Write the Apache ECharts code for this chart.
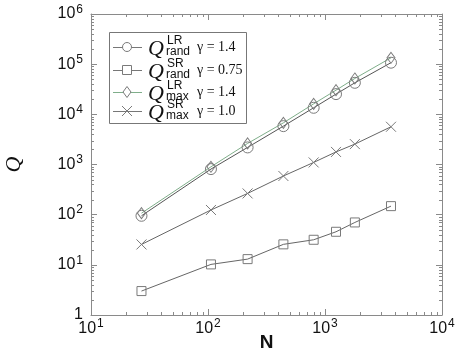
<!DOCTYPE html>
<html>
<head>
<meta charset="utf-8">
<script src="https://cdn.jsdelivr.net/npm/echarts@6/dist/echarts.min.js"></script>
<style>
  html, body { margin: 0; padding: 0; background: #fff; }
  #chart { width: 457px; height: 354px; }
</style>
</head>
<body>
<div id="chart"></div>
<script>
// system sizes N
const nValues = [27, 106, 218, 441, 800, 1242, 1800, 3665];
// Q values
const qRandLR = [95, 810, 2190, 5820, 13500, 25300, 42500, 107000];
const qRandSR = [3, 10.2, 13, 25.6, 31.6, 45.6, 70, 148];
const qMaxLR = [107, 900, 2630, 6770, 16200, 30300, 51900, 134000];
const qMaxSR = [25.5, 124, 265, 590, 1100, 1780, 2550, 5650];

const xMinorTicks = [20, 30, 40, 50, 60, 70, 80, 90,
  200, 300, 400, 500, 600, 700, 800, 900,
  2000, 3000, 4000, 5000, 6000, 7000, 8000, 9000];
const yMinorTicks = [2, 3, 4, 5, 6, 7, 8, 9,
  20, 30, 40, 50, 60, 70, 80, 90,
  200, 300, 400, 500, 600, 700, 800, 900,
  2000, 3000, 4000, 5000, 6000, 7000, 8000, 9000,
  20000, 30000, 40000, 50000, 60000, 70000, 80000, 90000,
  200000, 300000, 400000, 500000, 600000, 700000, 800000, 900000];

const legendRows = [
  { sup: 'LR', sub: 'rand', gamma: '\u03b3 = 1.4' },
  { sup: 'SR', sub: 'rand', gamma: '\u03b3 = 0.75' },
  { sup: 'LR', sub: 'max', gamma: '\u03b3 = 1.4' },
  { sup: 'SR', sub: 'max', gamma: '\u03b3 = 1.0' }
];

const axisGray = '#8a8a8a';
const markGray = '#7a7a7a';
const crossPath = 'path://M0,0L10,10M10,0L0,10';

function pow10Label(v) {
  const e = Math.round(Math.log10(v));
  if (e === 0) return '{b|1}';
  return '{b|10}{s|' + e + '}';
}

const labelRich = {
  b: { fontSize: 16, fontFamily: 'Liberation Sans', color: '#111' },
  s: { fontSize: 12, fontFamily: 'Liberation Sans', color: '#111', padding: [0, 0, 9, 1] }
};

function logAxis(extra) {
  return Object.assign({
    type: 'log',
    logBase: 10,
    axisLine: { show: true, lineStyle: { color: axisGray, width: 1 } },
    axisTick: { show: true, inside: true, length: 6, lineStyle: { color: axisGray } },
    splitLine: { show: false },
    minorTick: { show: false }
  }, extra);
}

function lineSeries(name, data, symbol, size, lineColor) {
  return {
    name: name,
    type: 'line',
    data: nValues.map((n, i) => [n, data[i]]),
    symbol: symbol,
    symbolSize: size,
    showAllSymbol: true,
    lineStyle: { color: lineColor, width: 1 },
    itemStyle: { color: 'transparent', borderColor: markGray, borderWidth: 1 },
    z: 3
  };
}

// legend drawn as graphic elements
const legendTop = [47, 70, 92, 111];
const legendSymbols = [
  { type: 'circle', shape: { cx: 127, cy: 0, r: 4.5 } },
  { type: 'rect', shape: { x: 122.5, y: -4.5, width: 9, height: 9 } },
  { type: 'polygon', shape: { points: [[127, -5.5], [131, 0], [127, 5.5], [123, 0]] } },
  { type: 'polyline', shape: { points: [[122, -5], [132, 5]] } }
];
const legendLineColors = ['#777', '#777', '#7fae8a', '#777'];
const legendChildren = [{
  type: 'rect',
  shape: { x: 109.5, y: 32.5, width: 137, height: 91 },
  style: { fill: '#fff', stroke: '#777', lineWidth: 1 }
}];
legendRows.forEach((row, i) => {
  const y = legendTop[i];
  legendChildren.push({
    type: 'line', shape: { x1: 113, y1: y + 0.5, x2: 142, y2: y + 0.5 },
    style: { stroke: legendLineColors[i], lineWidth: 1 }
  });
  const sym = Object.assign({}, legendSymbols[i]);
  sym.y = y;
  sym.style = { fill: '#fff', stroke: markGray, lineWidth: 1 };
  legendChildren.push(sym);
  if (i === 3) {
    legendChildren.push({
      type: 'polyline', y: y, shape: { points: [[132, -5], [122, 5]] },
      style: { fill: null, stroke: markGray, lineWidth: 1 }
    });
  }
  legendChildren.push({
    type: 'text', x: 148, y: y + 2,
    style: { text: 'Q', font: 'italic 22px "Liberation Serif"', fill: '#111', verticalAlign: 'middle' }
  });
  legendChildren.push({
    type: 'text', x: 167, y: y - 6,
    style: { text: row.sup, font: '12px "Liberation Sans"', fill: '#111', verticalAlign: 'middle' }
  });
  legendChildren.push({
    type: 'text', x: 166, y: y + 5,
    style: { text: row.sub, font: '12px "Liberation Sans"', fill: '#111', verticalAlign: 'middle' }
  });
  legendChildren.push({
    type: 'text', x: 197, y: y,
    style: { text: row.gamma, font: '14px "Liberation Serif"', fill: '#111', verticalAlign: 'middle' }
  });
});

const chart = echarts.init(document.getElementById('chart'));
chart.setOption({
  animation: false,
  backgroundColor: '#fff',
  grid: { left: 91, right: 15, top: 14, bottom: 39, outerBoundsMode: 'none' },
  xAxis: [
    logAxis({
      min: 10, max: 10000, position: 'bottom',
      name: 'N', nameLocation: 'middle', nameGap: 18, nameMoveOverlap: false,
      nameTextStyle: { fontSize: 19, fontWeight: 'bold', fontFamily: 'Liberation Sans', color: '#111' },
      axisLabel: { margin: 3, formatter: pow10Label, rich: labelRich }
    }),
    logAxis({ min: 10, max: 10000, position: 'top', axisLabel: { show: false } })
  ],
  yAxis: [
    logAxis({
      min: 1, max: 1000000, position: 'left',
      name: 'Q', nameLocation: 'middle', nameGap: 66, nameRotate: 90,
      nameTextStyle: { fontSize: 22, fontStyle: 'italic', fontFamily: 'Liberation Serif', color: '#111' },
      axisLabel: { margin: 8, formatter: pow10Label, rich: labelRich }
    }),
    logAxis({ min: 1, max: 1000000, position: 'right', axisLabel: { show: false } })
  ],
  series: [
    lineSeries('rand LR', qRandLR, 'circle', 11, '#555'),
    lineSeries('rand SR', qRandSR, 'rect', 9, '#666'),
    lineSeries('max LR', qMaxLR, 'diamond', [8, 11], '#7fae8a'),
    lineSeries('max SR', qMaxSR, crossPath, 10, '#666'),
    {
      type: 'custom',
      silent: true,
      data: xMinorTicks.map(v => [v, 1]),
      renderItem: function (params, api) {
        const cs = params.coordSys;
        const x = Math.round(api.coord([api.value(0), 1])[0]) + 0.5;
        const yb = cs.y + cs.height, yt = cs.y;
        return {
          type: 'group', children: [
            { type: 'line', shape: { x1: x, y1: yb, x2: x, y2: yb - 3 }, style: { stroke: axisGray, lineWidth: 1 } },
            { type: 'line', shape: { x1: x, y1: yt, x2: x, y2: yt + 3 }, style: { stroke: axisGray, lineWidth: 1 } }
          ]
        };
      }
    },
    {
      type: 'custom',
      silent: true,
      data: yMinorTicks.map(v => [10, v]),
      renderItem: function (params, api) {
        const cs = params.coordSys;
        const y = Math.round(api.coord([10, api.value(1)])[1]) + 0.5;
        const xl = cs.x, xr = cs.x + cs.width;
        return {
          type: 'group', children: [
            { type: 'line', shape: { x1: xl, y1: y, x2: xl + 3, y2: y }, style: { stroke: axisGray, lineWidth: 1 } },
            { type: 'line', shape: { x1: xr, y1: y, x2: xr - 3, y2: y }, style: { stroke: axisGray, lineWidth: 1 } }
          ]
        };
      }
    }
  ],
  graphic: [{ type: 'group', z: 10, children: legendChildren }]
});
</script>
</body>
</html>
